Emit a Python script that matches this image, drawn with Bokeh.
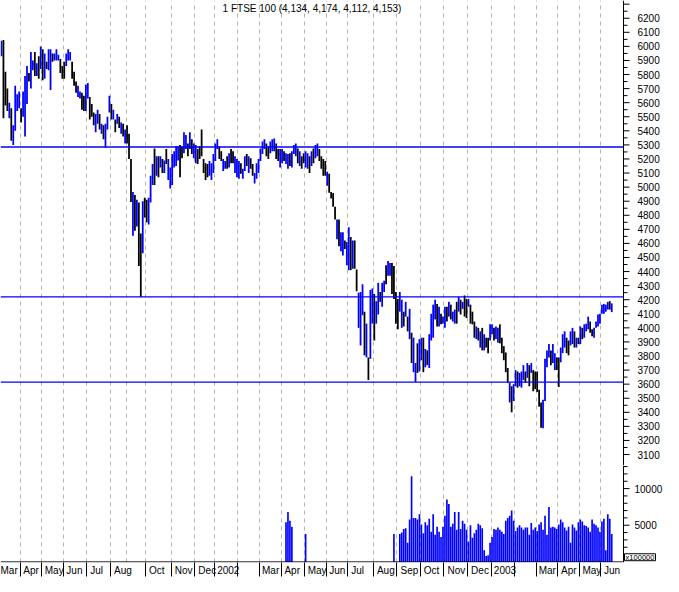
from bokeh.plotting import figure
from bokeh.models import Range1d, FixedTicker, Label, ColumnDataSource
from bokeh.core.properties import value
from bokeh.layouts import column
from bokeh.embed import file_html
from bokeh.resources import INLINE

# ---------------- data ----------------
month_labels = ["Mar", "Apr", "May", "Jun", "Jul", "Aug", "", "Oct", "Nov", "Dec",
                "2002", "", "Mar", "Apr", "May", "Jun", "Jul", "Aug", "Sep", "Oct",
                "Nov", "Dec", "2003", "", "Mar", "Apr", "May", "Jun"]
month_has_tick = [0, 1, 1, 1, 1, 1, 0, 1, 1, 1, 1, 1, 1, 1, 1, 1, 1, 1, 1, 1,
                  1, 1, 1, 1, 1, 1, 1, 1]
bars_per_month = [10, 11, 11, 12, 12, 8, 10, 13, 12, 10, 12, 11, 11, 12, 11, 11,
                  13, 12, 12, 12, 12, 12, 12, 11, 11, 11, 11, 6]

high = [
    6040, 6045, 5820, 5700, 5600, 5560, 5440, 5720, 5660, 5680,
    5560, 5680, 5790, 5860, 5810, 5960, 5900, 5960, 5880, 5930, 6000,
    5980, 5950, 5890, 5980, 5980, 5950, 5950, 5980, 5940, 5910, 5860,
    5890, 5950, 5980, 5960, 5890, 5820, 5750, 5720, 5680, 5670, 5650, 5730,
    5740, 5640, 5590, 5530, 5520, 5550, 5520, 5450, 5440, 5450, 5500, 5650,
    5590, 5550, 5480, 5520, 5500, 5460, 5450, 5410,
    5440, 5380, 5200, 4965, 4944, 4910, 4890, 4670, 4900, 4925,
    4910, 4925, 5080, 5165, 5275, 5220, 5220, 5220, 5200, 5190, 5270, 5200, 5140,
    5235, 5255, 5290, 5290, 5300, 5290, 5390, 5370, 5310, 5390, 5340, 5310,
    5300, 5270, 5290, 5410, 5200, 5170, 5165, 5185, 5170, 5235,
    5310, 5340, 5290, 5255, 5200, 5185, 5220, 5240, 5270, 5255, 5220, 5200,
    5185, 5170, 5130, 5220, 5235, 5220, 5205, 5165, 5100, 5170, 5200,
    5275, 5325, 5340, 5310, 5290, 5325, 5340, 5345, 5310, 5270, 5270,
    5270, 5255, 5240, 5235, 5240, 5255, 5300, 5310, 5275, 5255, 5220, 5240,
    5255, 5240, 5220, 5255, 5275, 5300, 5310, 5270, 5220, 5200, 5185,
    5110, 5095, 4965, 4958, 4860, 4770, 4770, 4680, 4680, 4620, 4610,
    4715, 4645, 4620, 4620, 4415, 4250, 4255, 4310, 4115, 4030, 3790, 4270, 4280,
    4240, 4190, 4320, 4255, 4320, 4335, 4445, 4475, 4460, 4460, 4440, 4255,
    4205, 4255, 4200, 4115, 4185, 4080, 4135, 3965, 3930, 3750, 3890, 3920,
    3930, 3930, 3850, 3840, 3955, 4100, 4165, 4200, 4170, 4150, 4100, 4080,
    4150, 4150, 4185, 4165, 4115, 4130, 4185, 4220, 4200, 4185, 4230, 4205,
    4205, 4165, 4115, 4045, 4010, 4000, 3975, 4000, 3955, 3930, 3930, 4025,
    4025, 4000, 4010, 4000, 4025, 3930, 3870, 3825, 3715, 3610, 3585, 3600,
    3700, 3690, 3680, 3690, 3735, 3690, 3750, 3735, 3750, 3700, 3690,
    3690, 3560, 3470, 3490, 3780, 3840, 3885, 3840, 3885, 3820, 3790,
    3790, 3860, 3955, 3975, 3930, 3910, 3975, 4000, 3975, 3930, 3930,
    4010, 4000, 4025, 4030, 4080, 4045, 3990, 4000, 4045, 4095, 4100,
    4165, 4170, 4165, 4185, 4190, 4174,
]

low = [
    5930, 5490, 5580, 5540, 5490, 5330, 5300, 5400, 5540, 5560,
    5460, 5500, 5360, 5590, 5750, 5700, 5830, 5790, 5790, 5770, 5840,
    5760, 5770, 5840, 5830, 5690, 5890, 5900, 5900, 5900, 5810, 5770,
    5770, 5860, 5900, 5900, 5770, 5720, 5670, 5640, 5630, 5550, 5540, 5540,
    5630, 5480, 5500, 5440, 5390, 5450, 5410, 5380, 5340, 5280, 5410, 5530,
    5480, 5480, 5390, 5450, 5420, 5380, 5360, 5310,
    5310, 5200, 4895, 4654, 4690, 4720, 4440, 4220, 4530, 4785,
    4750, 4735, 4890, 5015, 5015, 5080, 5070, 5140, 5100, 5100, 5165, 5050, 4990,
    5015, 5140, 5150, 5190, 5070, 5205, 5240, 5270, 5220, 5270, 5235, 5205,
    5170, 5165, 5200, 5220, 5100, 5050, 5070, 5080, 5050, 5100,
    5185, 5270, 5200, 5185, 5115, 5130, 5130, 5140, 5170, 5170, 5100, 5070,
    5060, 5095, 5060, 5115, 5150, 5100, 5130, 5080, 5025, 5060, 5100,
    5185, 5235, 5270, 5220, 5200, 5240, 5255, 5255, 5200, 5185, 5140,
    5170, 5185, 5165, 5130, 5150, 5140, 5235, 5220, 5170, 5150, 5130, 5170,
    5140, 5130, 5100, 5150, 5170, 5205, 5220, 5185, 5130, 5080, 5080,
    5010, 4960, 4920, 4860, 4770, 4630, 4580, 4545, 4515, 4560, 4445,
    4410, 4410, 4420, 4420, 4260, 4000, 3875, 4090, 3805, 3790, 3630, 3780, 4030,
    3910, 4030, 4095, 4185, 4150, 4255, 4310, 4370, 4370, 4240, 4205, 4030,
    3990, 4115, 4000, 4010, 4080, 3975, 3920, 3750, 3685, 3615, 3680, 3690,
    3770, 3685, 3720, 3735, 3715, 3910, 3930, 4060, 4010, 4010, 4025, 4030,
    4000, 4045, 4080, 4060, 4045, 4030, 4030, 4115, 4095, 4135, 4080, 4070,
    4150, 4030, 4025, 3930, 3920, 3910, 3860, 3840, 3840, 3860, 3820, 3910,
    3955, 3910, 3920, 3895, 3890, 3820, 3770, 3685, 3610, 3470, 3400, 3480,
    3585, 3575, 3585, 3575, 3630, 3610, 3645, 3585, 3680, 3550, 3565,
    3545, 3440, 3290, 3287, 3480, 3720, 3790, 3735, 3750, 3700, 3700,
    3580, 3755, 3820, 3860, 3820, 3805, 3875, 3885, 3860, 3860, 3885,
    3885, 3920, 3930, 3975, 3990, 3965, 3940, 3930, 4000, 4010, 4030,
    4100, 4100, 4115, 4130, 4130, 4112,
]

up = [
    1, 0, 0, 0, 1, 0, 1, 1, 1, 1,
    0, 1, 1, 1, 0, 1, 1, 0, 1, 0, 1,
    0, 1, 0, 1, 1, 0, 1, 1, 1, 0, 0,
    0, 1, 1, 1, 0, 0, 0, 1, 1, 0, 0, 1,
    1, 0, 0, 0, 1, 1, 0, 1, 0, 1, 1, 1,
    0, 1, 0, 1, 0, 1, 0, 1,
    0, 0, 0, 1, 0, 1, 0, 0, 1, 0,
    0, 1, 1, 1, 0, 1, 0, 1, 0, 1, 0, 1, 1,
    1, 1, 1, 1, 0, 0, 1, 1, 0, 1, 0, 1,
    1, 0, 0, 0, 0, 0, 0, 1, 1, 1,
    1, 1, 0, 0, 1, 1, 0, 1, 0, 0, 1, 1,
    1, 0, 1, 1, 0, 1, 0, 0, 1, 1, 1,
    1, 1, 1, 0, 0, 1, 1, 1, 0, 0, 1,
    1, 0, 1, 1, 0, 1, 1, 1, 0, 1, 0, 0,
    1, 1, 0, 1, 0, 1, 1, 0, 0, 0, 0,
    1, 0, 0, 0, 0, 1, 0, 1, 1, 0, 1,
    1, 0, 1, 0, 0, 1, 1, 1, 0, 1, 0, 1, 1,
    0, 1, 1, 0, 1, 1, 0, 1, 1, 0, 0, 0,
    0, 1, 1, 0, 1, 0, 1, 0, 1, 1, 0, 1,
    1, 0, 1, 0, 1, 1, 1, 1, 0, 1, 0, 1,
    1, 0, 1, 0, 1, 1, 0, 1, 0, 1, 0, 0,
    1, 0, 0, 0, 1, 0, 1, 0, 1, 0, 0, 1,
    1, 0, 1, 1, 0, 0, 0, 0, 0, 1, 0, 1,
    1, 0, 1, 1, 1, 0, 1, 0, 1, 0, 0,
    0, 0, 0, 1, 1, 1, 1, 0, 1, 1, 0,
    0, 1, 1, 1, 0, 0, 1, 1, 0, 1, 0,
    1, 0, 1, 1, 1, 0, 0, 1, 1, 1, 1,
    1, 1, 1, 1, 0, 1,
]

volume = ([0] * 145 + [5400, 6800, 5600, 4800] + [0] * 6 + [3800] + [0] * 44 + [
    3800, 0, 0, 3800, 4000, 4500, 4600, 2600, 5800, 11700,
    6000, 6000, 5800, 6500, 5100, 3900, 5400, 5000, 5900, 4100,
    6500, 3700, 4800, 4100, 3400, 4800, 6300, 8500, 7900, 4800,
    5200, 6800, 4400, 6800, 4500, 5600, 5200, 4400, 2800, 5000,
    3300, 3900, 4400, 5200, 5000, 4600, 1600, 800, 900, 2600,
    3400, 4500, 4400, 4700, 4400, 4100, 3800, 5600, 6000, 6300,
    7000, 5600, 4200, 4700, 5000, 4700, 4400, 4700, 4700, 3700,
    5300, 4400, 4700, 4200, 5100, 5400, 4400, 6300, 3700, 7500,
    4700, 4800, 4700, 4500, 5100, 5800, 5400, 4700, 4300, 4800,
    2600, 5100, 4700, 4300, 5400, 5800, 5500, 5000, 4900, 4700,
    4100, 5800, 5200, 5000, 4700, 4100, 5500, 5900, 1600, 6500,
    5900, 3800,
])

levels = [5285, 4220, 3615]
last_bar = [4134, 4174, 4112, 4153]   # open, high, low, close
price_labels = list(range(3100, 6201, 100))
price_ticks_major = list(range(3100, 6301, 100))
price_ticks_minor = list(range(3150, 6251, 100))
volume_labels = [5000, 10000]
volume_ticks = list(range(1000, 13001, 1000))
volume_multiplier = "x100000"

# ---------------- layout constants ----------------
n = min(len(high), len(low), len(up), len(volume))
X_END = 317.5
FRAME_W = 623
FULL_W = 663
PRICE_H = 465
VOL_H = 97
P_BOT, P_TOP = 3022, 6326
V_TOP = 13150
BLUE = "#0000ff"
FONT = "Liberation Sans"
NBSP = "\u00a0"
ppu = FRAME_W / X_END            # pixels per bar slot
X_FULL = FULL_W / ppu
vpp = V_TOP / VOL_H              # volume units per pixel
V_BOT = -0.6 * vpp

xs = [i + 0.5 for i in range(n)]
colors = [BLUE if u else "#000000" for u in up[:n]]
src = ColumnDataSource(dict(x=xs, hi=high[:n], lo=low[:n], c=colors, v=volume[:n]))

starts = []
acc = 0
for cnt in bars_per_month:
    starts.append(acc)
    acc += cnt


def make_fig(h, y0, y1, xloc):
    p = figure(frame_width=FULL_W, frame_height=h, output_backend="svg",
               toolbar_location=None, x_range=Range1d(0, X_FULL),
               y_range=Range1d(y0, y1), x_axis_location=xloc,
               y_axis_location=None, min_border_left=0, min_border_top=0,
               min_border_bottom=0, min_border_right=0)
    p.outline_line_color = None
    p.background_fill_color = "white"
    p.border_fill_color = "white"
    p.ygrid.grid_line_color = None
    p.xgrid.ticker = FixedTicker(ticks=starts[1:])
    p.xgrid.grid_line_color = "#b4b4b4"
    p.xgrid.grid_line_dash = "4 4"
    p.xgrid.grid_line_width = 1
    return p


def right_scale(p, y0, y1, majors, minors, labels, label_gap):
    p.segment(x0=[X_END], y0=[y0], x1=[X_END], y1=[y1], line_color="black",
              line_width=1)
    p.segment(x0=[X_END] * len(majors), y0=majors,
              x1=[X_END + 6 / ppu] * len(majors), y1=majors,
              line_color="black", line_width=1)
    p.segment(x0=[X_END] * len(minors), y0=minors,
              x1=[X_END + 4 / ppu] * len(minors), y1=minors,
              line_color="black", line_width=1)
    p.text(x=[X_END + label_gap / ppu] * len(labels), y=labels,
           text=[str(v) for v in labels], text_baseline="middle",
           text_font=value(FONT), text_font_size="10px", text_color="black")


# ---------------- price panel ----------------
p1 = make_fig(PRICE_H, P_BOT, P_TOP, None)
p1.vbar(x="x", width=0.9, top="hi", bottom="lo", fill_color="c",
        line_color=None, source=src)
p1.segment(x0=[0] * len(levels), y0=levels, x1=[X_END] * len(levels), y1=levels,
           line_color=BLUE, line_width=1.3)
right_scale(p1, P_BOT, P_TOP, price_ticks_major, price_ticks_minor,
            price_labels, 14)

title_txt = "1 FTSE 100 ({:,}, {:,}, {:,}, {:,})".format(*last_bar)
p1.add_layout(Label(x=X_END / 2, y=6271, text=title_txt, text_align="center",
                    text_baseline="middle", text_font=FONT,
                    text_font_size="10px", text_color="black"))

# ---------------- volume panel ----------------
p2 = make_fig(VOL_H, V_BOT, V_TOP, "below")
p2.vbar(x="x", width=0.85, top="v", bottom=0, fill_color=BLUE,
        line_color=None, source=src)
right_scale(p2, V_BOT, V_TOP, volume_labels,
            [t for t in volume_ticks if t not in volume_labels],
            volume_labels, 11)
# bottom axis line (stops at the price scale)
p2.segment(x0=[0], y0=[0], x1=[X_END], y1=[0], line_color="black", line_width=1)
# multiplier box
p2.quad(left=[X_END + 1 / ppu], right=[X_END + 32 / ppu], bottom=[1.2 * vpp],
        top=[8.2 * vpp], fill_color="white", line_color="black", line_width=1)
p2.text(x=[X_END + 16.5 / ppu], y=[4.7 * vpp], text=[volume_multiplier],
        text_align="center", text_baseline="middle", text_font=value(FONT),
        text_font_size="7.5px", text_color="black")

# x axis: separators are the ticks; each label is padded so it sits right of its tick
em = {"M": .833, "a": .556, "r": .333, "A": .667, "p": .556, "y": .5, "J": .5,
      "u": .556, "n": .556, "l": .222, "g": .556, "S": .667, "e": .556,
      "O": .778, "c": .5, "t": .278, "N": .722, "o": .556, "v": .5, "D": .722}
fs = 10
sw = 0.278 * fs


def tw(s):
    return sum(em.get(ch, .556) for ch in s) * fs


tick_pos = []
overrides = {}
pending = None   # a label whose month has no separator of its own
for b, lab, has in zip(starts, month_labels, month_has_tick):
    if not has:
        if lab and b == 0:
            pending = lab
        continue
    tick_pos.append(b)
    T = b * ppu
    if lab and pending:
        # leading label (no separator) printed together with this one
        w0, w1 = tw(pending), tw(lab)
        a = max(1, round((T + 4 - w0) / sw))
        bb = max(0, round((2 * (T + 1) - (w0 + a * sw + w1)) / sw))
        overrides[b] = pending + NBSP * a + lab + NBSP * bb
        pending = None
    elif lab:
        k = max(0, round((tw(lab) + 6) / sw))
        overrides[b] = NBSP * k + lab
    else:
        overrides[b] = ""

xa = p2.xaxis[0]
xa.ticker = FixedTicker(ticks=tick_pos)
xa.major_label_overrides = overrides
xa.major_tick_out = 14
xa.major_tick_in = 0
xa.minor_tick_line_color = None
xa.major_tick_line_color = "black"
xa.major_label_standoff = -12
xa.major_label_text_font = FONT
xa.major_label_text_font_size = "10px"
xa.major_label_text_color = "black"
xa.axis_line_color = None

layout = column(p1, p2, spacing=0)
open("out.html", "w").write(file_html(layout, INLINE))
